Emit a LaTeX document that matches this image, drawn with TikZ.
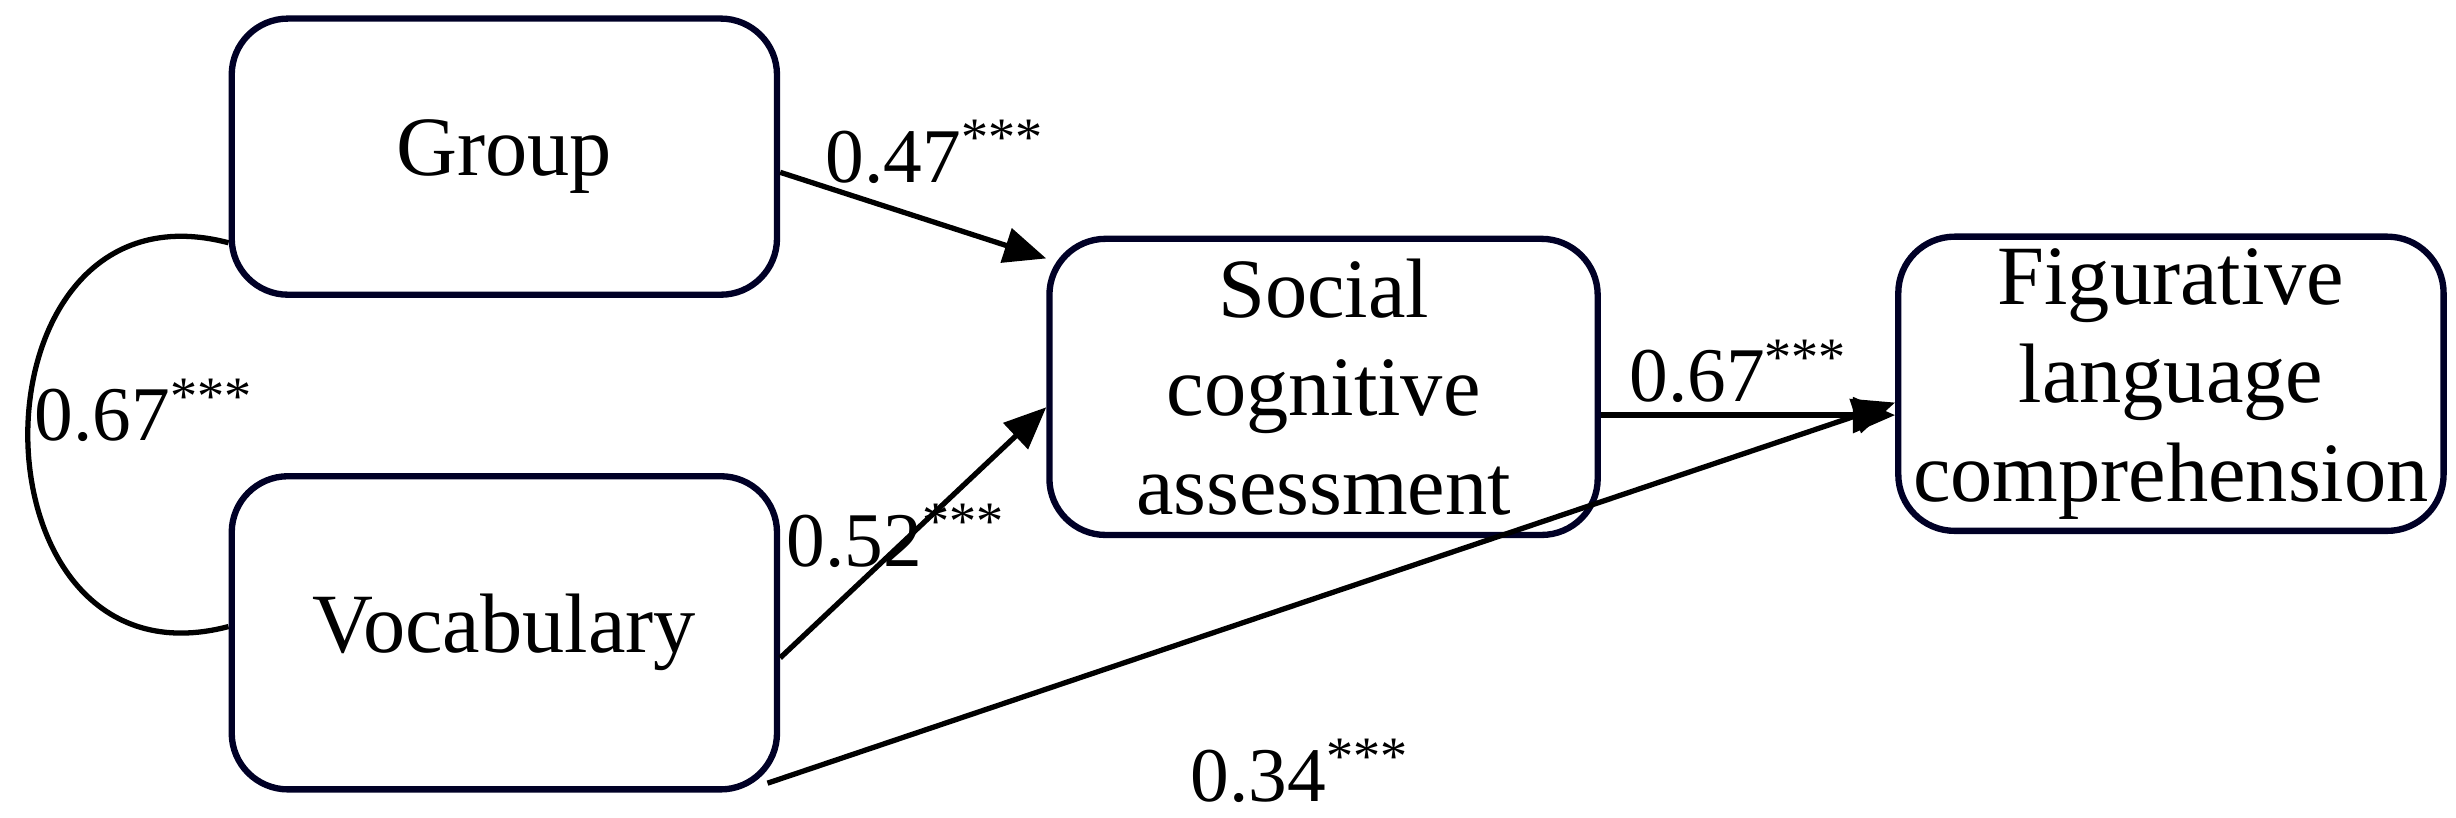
\documentclass[tikz,border=0pt]{standalone}
\usepackage{fontspec}
\setmainfont{Liberation Serif}
\usetikzlibrary{arrows.meta}
\begin{document}
\begin{tikzpicture}[x=0.01566cm,y=-0.01566cm,
 box/.style={draw=black!85!blue,line width=1.8pt,rounded corners=16pt,align=center,font=\fontsize{24}{28}\selectfont},
 lbl/.style={font=\fontsize{22}{26}\selectfont},
 arr/.style={-{Triangle[length=12pt,width=10pt]},line width=1.5pt}]
\useasboundingbox (0,0) rectangle (1568,522);
\node[box,minimum width=5.45cm,minimum height=2.76cm] (g) at (322,100) {Group};
\node[box,minimum width=5.45cm,minimum height=3.13cm] (v) at (322,404) {Vocabulary};
\node[box,minimum width=5.48cm,minimum height=2.96cm] (s) at (845,247) {Social\\cognitive\\assessment};
\node[box,minimum width=5.45cm,minimum height=2.82cm] (f) at (1386,245) {Figurative\\language\\comprehension};
\draw[line width=1.5pt] (g.west|-0,155) .. controls (-25,110) and (-25,445) .. (v.west|-0,400);
\draw[arr] (g.east|-0,110) -- (s.west|-0,165);
\draw[arr] (v.east|-0,420) -- (s.west|-0,260);
\draw[arr] (s.east|-0,265) -- (f.west|-0,265);
\coordinate (vb) at (490,500);
\draw[arr] (vb) -- (f.west|-0,257);
\node[lbl] (l1) at (597,97) {0.47\textsuperscript{***}};
\node[lbl] (l2) at (572,342) {0.52\textsuperscript{***}};
\node[lbl] (l3) at (1110,237) {0.67\textsuperscript{***}};
\node[lbl] (l4) at (830,492) {0.34\textsuperscript{***}};
\node[lbl] (l5) at (92,262) {0.67\textsuperscript{***}};
\end{tikzpicture}
\end{document}
